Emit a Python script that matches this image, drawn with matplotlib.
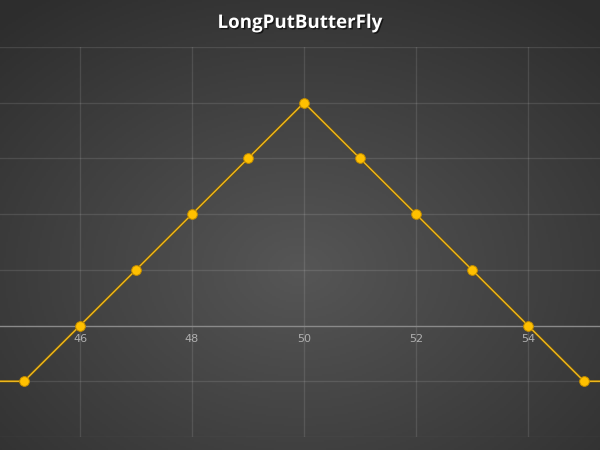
import numpy as np
import matplotlib
matplotlib.use('Agg')
from matplotlib import pyplot
import matplotlib.patheffects as pe

# payoff of the long put butterfly (strikes 45 / 50 / 55, net debit 1)
prices = [44, 45, 46, 47, 48, 49, 50, 51, 52, 53, 54, 55, 56]
payoff = [-1, -1, 0, 1, 2, 3, 4, 3, 2, 1, 0, -1, -1]
xtick_values = [46, 48, 50, 52, 54]
title = 'LongPutButterFly'

fig = pyplot.figure(figsize=(6, 4.5), dpi=100)

# background radial gradient
bg = fig.add_axes([0, 0, 1, 1])
gx, gy = np.meshgrid(np.linspace(0, 1, 300), np.linspace(0, 1, 225))
r = np.sqrt(((gx - 0.5) / 0.75) ** 2 + ((gy - 0.6) / 0.75) ** 2)
r = np.clip(r, 0, 1)
c0 = np.array([0x56, 0x56, 0x56]) / 255.0
c1 = np.array([0x2d, 0x2d, 0x2d]) / 255.0
img = c0[None, None, :] * (1 - r[..., None]) + c1[None, None, :] * r[..., None]
bg.imshow(img, aspect='auto', extent=[0, 1, 0, 1], origin='upper')
bg.set_axis_off()

ax = fig.add_axes([0, 13 / 450, 1, 390 / 450])
ax.patch.set_alpha(0)
ax.set_xlim(44.571, 55.286)
ax.set_ylim(-2, 5)

# grid
for yv in range(-2, 6):
    if yv != 0:
        ax.axhline(yv, color='white', alpha=0.11, linewidth=1, zorder=1)
for xv in xtick_values:
    ax.axvline(xv, color='white', alpha=0.11, linewidth=1, zorder=1)
ax.axhline(0, color='#8a8a8a', linewidth=1, zorder=2)

ax.plot(prices, payoff, color='#F0B81E', linewidth=1.0, zorder=3,
        path_effects=[pe.Stroke(linewidth=1.9, foreground='#6b5310'), pe.Normal()])
ax.plot(prices, payoff, linestyle='none', marker='o', markersize=7,
        markerfacecolor='#FFC000', markeredgecolor='#C08A00', markeredgewidth=0.7,
        zorder=4)

for s in ax.spines.values():
    s.set_visible(False)
ax.set_yticks([])
ax.set_xticks(xtick_values)
ax.set_xticklabels([str(v) for v in xtick_values])
ax.xaxis.set_ticks_position('bottom')
ax.spines['bottom'].set_position(('data', 0))
ax.tick_params(axis='x', length=0, pad=6, labelsize=8, labelcolor='#b0b0b0')

fig.text(0.5, 0.949, title, ha='center', va='center', color='white',
         fontsize=13.5, fontweight='bold', family='Open Sans',
         path_effects=[pe.withSimplePatchShadow(offset=(1, -1), shadow_rgbFace='black', alpha=0.6)])

fig.savefig('out.png', dpi=100)
